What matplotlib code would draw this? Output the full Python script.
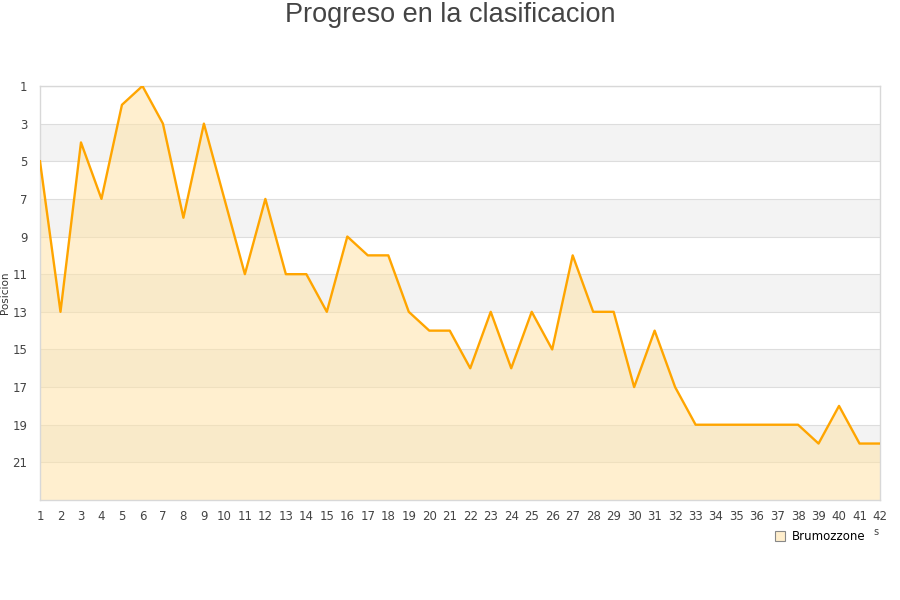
import matplotlib
matplotlib.use("Agg")
import matplotlib.pyplot as plt
from matplotlib.lines import Line2D

jornadas = list(range(1, 43))
posiciones = [5, 13, 4, 7, 2, 1, 3, 8, 3, 7, 11, 7, 11, 11, 13, 9, 10, 10, 13, 14,
              14, 16, 13, 16, 13, 15, 10, 13, 13, 17, 14, 17, 19, 19, 19, 19, 19, 19,
              20, 18, 20, 20]
y_ticks = list(range(1, 22, 2))
serie = "Brumozzone"
titulo = "Progreso en la clasificacion"

fig = plt.figure(figsize=(9, 6), dpi=100)
ax = fig.add_axes([40/900, 1-500/600, 840/900, 414/600])

ymin, ymax = 1, 23
for i, y0 in enumerate(range(1, 23, 2)):
    if i % 2 == 1:
        ax.axhspan(y0, y0+2, color="#f3f3f3", zorder=0, lw=0)
for y in y_ticks:
    ax.axhline(y, color="#dddddd", lw=0.8, zorder=0.5)

ax.fill_between(jornadas, posiciones, ymax, color="#ffe3a8", alpha=0.55, lw=0, zorder=1)
ax.plot(jornadas, posiciones, color="#ffa500", lw=1.7, zorder=3)

ax.set_xlim(1, 42)
ax.set_ylim(ymax, ymin)
ax.set_xticks(jornadas)
ax.set_yticks(y_ticks)
ax.tick_params(axis="both", length=0, labelsize=8.5, colors="#444444", pad=7)
ax.tick_params(axis="y", pad=9)
for s in ax.spines.values():
    s.set_color("#d8d8d8")
    s.set_linewidth(1)

ax.set_ylabel("Posicion", fontsize=7.5, color="#333333")
ax.yaxis.set_label_coords(-0.036, 0.5)

fig.text(0.5, 1-15/600, titulo, ha="center", va="center", fontsize=19.5,
         family="Liberation Sans", color="#444444")

handle = Line2D([], [], marker="s", linestyle="none", markersize=7,
                markerfacecolor="#ffeecc", markeredgecolor="#888888", markeredgewidth=0.8)
fig.legend([handle], [serie], loc="center left", bbox_to_anchor=(768/900, 1-537/600),
           frameon=False, fontsize=8.5, handletextpad=0.5, borderpad=0, handlelength=1)
fig.text(876/900, 1-532/600, "s", fontsize=7, color="#444444", ha="center", va="center")

fig.savefig("out.png", dpi=100, facecolor="white")
